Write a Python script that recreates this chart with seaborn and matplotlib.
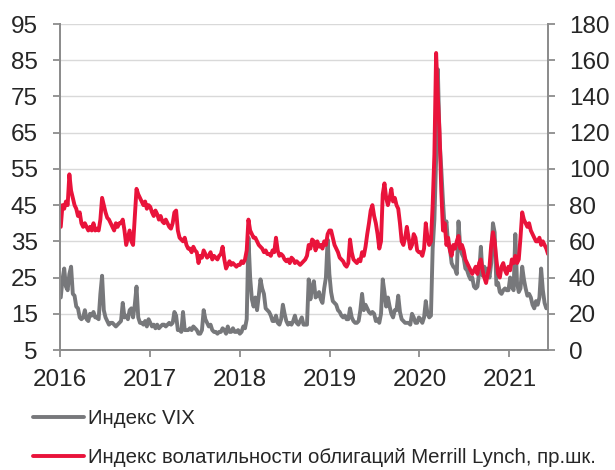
import pandas as pd
import matplotlib.pyplot as plt
import seaborn as sns

# Weekly values (Mondays), one list per year
vix_2016 = [19.5, 24.5, 27.5, 22.5,
            21.5, 26.0, 28.0, 20.5, 20.0,
            17.0, 16.5, 14.0, 13.5,
            14.0, 16.0, 13.5, 13.0,
            15.0, 14.5, 15.5, 14.0, 14.0,
            13.5, 20.5, 25.5, 16.0,
            14.0, 13.0, 12.0, 12.5,
            12.5, 12.0, 11.5, 12.0, 12.5,
            13.0, 18.0, 14.0, 14.5,
            13.5, 16.0, 16.5, 14.0, 17.5,
            22.5, 14.0, 12.5, 12.5,
            12.0, 13.0, 11.5, 13.5]
vix_2017 = [12.5, 11.5, 12.0, 11.0, 12.0,
            11.0, 11.5, 12.0, 12.0,
            11.5, 12.0, 12.5, 12.0,
            12.5, 15.5, 14.5, 10.5,
            10.5, 10.0, 15.5, 10.5, 10.5,
            10.5, 11.0, 10.5, 11.5,
            11.0, 10.5, 9.5, 9.5, 10.5,
            16.0, 13.5, 12.5, 11.5,
            12.0, 10.5, 10.0, 10.0,
            9.5, 10.0, 10.0, 11.0, 10.5,
            9.5, 11.5, 10.0, 10.0,
            11.0, 10.0, 10.0, 10.5]
vix_2018 = [9.5, 10.0, 11.5, 11.0, 13.5,
            36.0, 25.0, 19.0, 17.0,
            19.5, 16.0, 20.0, 24.5,
            22.0, 20.5, 16.5, 16.0, 15.5,
            14.5, 13.0, 13.0, 14.5,
            12.5, 12.0, 13.5, 17.5,
            15.0, 13.0, 12.0, 12.5, 12.0,
            13.0, 14.5, 12.5, 12.0,
            13.0, 14.0, 12.0, 12.0,
            12.0, 24.5, 19.0, 22.5, 24.0,
            19.5, 20.0, 21.0, 19.0,
            18.0, 22.0, 25.0, 35.5, 26.0]
vix_2019 = [21.0, 18.5, 18.0, 17.5,
            16.0, 15.5, 14.5, 14.0,
            14.5, 13.5, 13.5, 16.5,
            14.0, 13.0, 12.5, 12.5, 13.0,
            16.0, 20.5, 16.0, 17.5,
            16.5, 15.5, 15.0, 15.5,
            15.0, 13.0, 13.5, 12.5, 15.0,
            24.5, 21.0, 17.0, 19.5,
            17.0, 15.0, 14.0, 16.0, 16.0,
            20.0, 15.5, 13.5, 13.0,
            12.5, 12.5, 12.5, 12.0,
            15.0, 14.0, 12.5, 12.5, 14.0]
vix_2020 = [13.5, 12.5, 14.0, 18.5,
            15.0, 14.0, 14.5, 33.0,
            41.0, 57.5, 82.5, 63.0, 55.0,
            46.0, 38.5, 40.5, 34.0,
            33.0, 29.0, 28.0, 27.5,
            26.0, 40.5, 33.5, 31.5, 30.5,
            27.5, 27.0, 25.5, 24.5,
            25.0, 22.5, 22.0, 22.5, 26.5,
            33.5, 25.5, 28.0, 26.5,
            27.5, 25.0, 29.0, 40.0,
            37.5, 23.0, 23.5, 21.0, 20.5,
            21.5, 22.0, 21.5, 21.5]
vix_2021 = [25.0, 22.5, 21.5, 37.0,
            23.5, 21.0, 22.0, 28.0,
            24.5, 22.0, 20.0, 20.5, 19.5,
            17.5, 16.5, 18.5, 17.5,
            19.5, 27.5, 21.5, 18.0, 16.5,
            17.0]

move_2016 = [68, 80, 78, 82,
             80, 97, 88, 84, 80,
             78, 74, 76, 70,
             68, 70, 68, 66,
             68, 66, 70, 66, 67,
             66, 72, 84, 80,
             76, 73, 72, 70,
             68, 66, 70, 68, 70,
             70, 72, 66, 58,
             62, 66, 60, 58, 74,
             89, 86, 84, 82,
             80, 82, 78, 80]
move_2017 = [79, 76, 74, 77, 75,
             72, 74, 71, 70,
             72, 70, 68, 67,
             70, 76, 77, 66,
             62, 61, 60, 62, 58,
             56, 56, 54, 57,
             55, 54, 48, 52, 51,
             55, 53, 51, 52,
             54, 50, 52, 51,
             50, 52, 53, 57, 50,
             45, 47, 49, 47,
             48, 47, 46, 47]
move_2018 = [47, 49, 48, 50, 55,
             72, 66, 64, 62,
             62, 60, 58, 57,
             56, 54, 55, 53, 53,
             52, 55, 54, 62,
             55, 52, 53, 52,
             50, 49, 50, 48, 51,
             50, 48, 49, 48,
             47, 48, 49, 50,
             52, 58, 56, 61, 60,
             55, 60, 57, 58,
             56, 60, 58, 64, 66]
move_2019 = [66, 62, 58, 56,
             54, 51, 50, 49,
             47, 46, 48, 61,
             54, 50, 49, 48, 50,
             49, 54, 52, 57,
             64, 70, 77, 80,
             74, 70, 64, 56, 60,
             86, 92, 84, 80,
             84, 89, 82, 84, 80,
             78, 70, 60, 58,
             62, 68, 62, 56,
             58, 64, 62, 55, 54]
move_2020 = [54, 52, 56, 70,
             62, 58, 60, 80,
             108, 164, 140, 120, 88,
             66, 70, 58, 62,
             55, 52, 58, 56,
             60, 63, 56, 58, 55,
             50, 48, 46, 44,
             42, 44, 46, 42, 48,
             50, 44, 40, 37,
             42, 46, 58, 65,
             60, 50, 42, 40, 46,
             48, 44, 42, 46]
move_2021 = [44, 50, 48, 52,
             48, 50, 62, 76,
             72, 70, 68, 70, 66,
             64, 62, 60, 60,
             62, 58, 60, 58, 56,
             53]

years = ["2016", "2017", "2018", "2019", "2020", "2021"]
vix_label = "Индекс VIX"
move_label = "Индекс волатильности облигаций Merrill Lynch, пр.шк."

vix = vix_2016 + vix_2017 + vix_2018 + vix_2019 + vix_2020 + vix_2021
move = move_2016 + move_2017 + move_2018 + move_2019 + move_2020 + move_2021
dates = pd.date_range("2016-01-04", periods=len(vix), freq="W-MON")
df = pd.DataFrame({"date": dates, "vix": vix, "move": move})

GREY = "#77787b"
RED = "#e9133b"
AXIS = "#8c8c8c"

sns.set_style("ticks")
plt.rcParams["font.family"] = ["Liberation Sans", "DejaVu Sans"]

fig, ax = plt.subplots(figsize=(6.15, 4.7), dpi=100)
fig.subplots_adjust(left=0.0976, right=0.8911, bottom=0.2553, top=0.9489)
ax2 = ax.twinx()

sns.lineplot(data=df, x="date", y="vix", ax=ax, color=GREY, linewidth=2.8, estimator=None)
sns.lineplot(data=df, x="date", y="move", ax=ax2, color=RED, linewidth=2.8, estimator=None)

ax.set_ylim(5, 95)
ax.set_yticks(range(5, 96, 10))
ax2.set_ylim(0, 180)
ax2.set_yticks(range(0, 181, 20))
ax.set_xlim(pd.Timestamp("2016-01-01"), dates[-1])
ax.set_xticks([pd.Timestamp(y + "-01-01") for y in years])
ax.set_xticklabels(years)

ax.yaxis.grid(True, color="#d9d9d9", linewidth=1)
ax.set_axisbelow(True)
for a in (ax, ax2):
    a.set_xlabel("")
    a.set_ylabel("")
    a.spines["top"].set_visible(False)
    for s in ("left", "right", "bottom"):
        a.spines[s].set_color(AXIS)
        a.spines[s].set_linewidth(1.3)
ax.tick_params(axis="both", direction="out", length=5, width=1.3, color=AXIS,
               labelsize=17.5, pad=11)
ax.tick_params(axis="x", pad=9)
ax2.tick_params(axis="y", direction="out", length=5, width=1.3, color=AXIS,
                labelsize=17.5, pad=10)

handles = [ax.lines[0], ax2.lines[0]]
fig.legend(handles, [vix_label, move_label], loc="upper left",
           bbox_to_anchor=(32.7 / 615, 1 - 409 / 470), frameon=False,
           fontsize=14.7, handlelength=2.5, handletextpad=0.2,
           labelspacing=1.0, borderpad=0, borderaxespad=0)

plt.savefig("out.png", dpi=100)
